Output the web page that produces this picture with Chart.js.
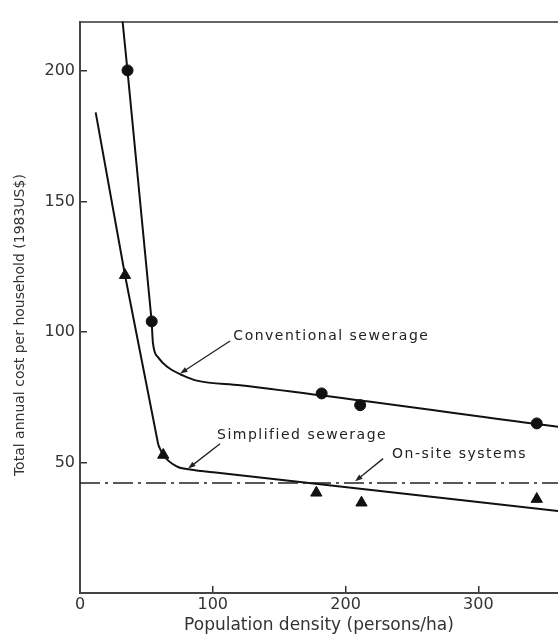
<!DOCTYPE html>
<html>
<head>
<meta charset="utf-8">
<script src="https://cdn.jsdelivr.net/npm/chart.js@4"></script>
<style>
  body { margin: 0; background: #fff; }
  #caixa { width: 558px; height: 636px; }
</style>
</head>
<body>
<div id="caixa"><canvas id="grafico"></canvas></div>
<script>
// esgoto convencional: trecho reto
const convRetaX = [31.5, 35.8, 54];
const convRetaY = [222, 200, 104];
// esgoto convencional: joelho e cauda
const convCurvaX = [54, 54.9, 59, 66.5, 77.8, 87.9, 120.6, 360];
const convCurvaY = [104, 96, 90.2, 86.4, 83.3, 81.4, 79.6, 63.7];
// pontos medidos (circulos)
const convPontosX = [35.8, 54, 182, 211, 344];
const convPontosY = [200.3, 104.1, 76.5, 72, 65];

// esgoto simplificado: trecho reto
const simpRetaX = [11.8, 33.9, 59];
const simpRetaY = [184.2, 121.8, 56.7];
// esgoto simplificado: joelho e cauda
const simpCurvaX = [59, 62.7, 72.8, 82.8, 105.4, 360];
const simpCurvaY = [56.7, 52.9, 48.5, 47.3, 46, 31.4];
// pontos medidos (triangulos)
const simpPontosX = [33.9, 62.7, 178, 212, 344];
const simpPontosY = [121.8, 52.9, 38.4, 34.6, 36];

// sistemas locais (linha traco-ponto)
const localX = [0, 360];
const localY = [42.2, 42.2];

const xTicks = [0, 100, 200, 300];
const yTicks = [50, 100, 150, 200];

// anotacoes: texto e setas, em unidades do grafico
const notaTexto = ['Conventional sewerage', 'Simplified sewerage', 'On-site systems'];
const notaX = [115.5, 103.2, 235];
const notaY = [98.5, 60.6, 53];
const setaDeX = [113, 105.5, 228.3];
const setaDeY = [96.6, 57.2, 51.5];
const setaAteX = [75.4, 81.4, 207.2];
const setaAteY = [84.1, 47.7, 42.8];

const pares = (xs, ys) => xs.map((v, i) => ({x: v, y: ys[i]}));

function seta(ctx, x1, y1, x2, y2) {
  const ang = Math.atan2(y2 - y1, x2 - x1);
  const tam = 8;
  ctx.beginPath();
  ctx.moveTo(x1, y1);
  ctx.lineTo(x2 - Math.cos(ang) * tam * 0.7, y2 - Math.sin(ang) * tam * 0.7);
  ctx.stroke();
  ctx.beginPath();
  ctx.moveTo(x2, y2);
  ctx.lineTo(x2 - tam * Math.cos(ang - 0.35), y2 - tam * Math.sin(ang - 0.35));
  ctx.lineTo(x2 - tam * Math.cos(ang + 0.35), y2 - tam * Math.sin(ang + 0.35));
  ctx.closePath();
  ctx.fill();
}

const notas = {
  id: 'notas',
  afterDatasetsDraw(chart) {
    const {ctx, scales: {x, y}} = chart;
    ctx.save();
    ctx.font = '14px "DejaVu Sans", sans-serif';
    ctx.letterSpacing = '1.5px';
    ctx.fillStyle = '#222';
    ctx.strokeStyle = '#222';
    ctx.lineWidth = 1.3;
    ctx.textBaseline = 'middle';
    for (let i = 0; i < notaTexto.length; i++) {
      ctx.fillText(notaTexto[i], x.getPixelForValue(notaX[i]), y.getPixelForValue(notaY[i]));
      seta(ctx,
        x.getPixelForValue(setaDeX[i]), y.getPixelForValue(setaDeY[i]),
        x.getPixelForValue(setaAteX[i]), y.getPixelForValue(setaAteY[i]));
    }
    ctx.restore();
  }
};

Chart.defaults.font.family = '"DejaVu Sans", sans-serif';
Chart.defaults.color = '#333';

const linha = (xs, ys, suave) => ({
  data: pares(xs, ys),
  showLine: true, pointRadius: 0, borderColor: '#111', borderWidth: 2,
  cubicInterpolationMode: suave ? 'monotone' : 'default', tension: 0
});

const ctx = document.getElementById('grafico').getContext('2d');
const meuGrafico = new Chart(ctx, {
  type: 'scatter',
  data: {
    datasets: [
      linha(convRetaX, convRetaY, false),
      linha(convCurvaX, convCurvaY, true),
      linha(simpRetaX, simpRetaY, false),
      linha(simpCurvaX, simpCurvaY, true),
      {
        data: pares(localX, localY),
        showLine: true, pointRadius: 0, borderColor: '#222', borderWidth: 1.5,
        borderDash: [20, 5, 3, 5]
      },
      {
        data: pares(convPontosX, convPontosY),
        pointStyle: 'circle', pointRadius: 5.5, backgroundColor: '#111', borderColor: '#111',
        clip: false
      },
      {
        data: pares(simpPontosX, simpPontosY),
        pointStyle: 'triangle', pointRadius: 6.5, backgroundColor: '#111', borderColor: '#111',
        clip: false
      }
    ]
  },
  options: {
    responsive: true,
    maintainAspectRatio: false,
    animation: false,
    layout: { autoPadding: false, padding: { top: 15, right: 0, left: 0, bottom: 0 } },
    plugins: { legend: { display: false }, tooltip: { enabled: false } },
    scales: {
      x: {
        type: 'linear', min: 0, max: 360,
        afterFit: (s) => { s.height = 43; },
        afterBuildTicks: (s) => { s.ticks = xTicks.map(v => ({value: v})); },
        ticks: { font: { size: 16 }, padding: 9, color: '#333' },
        grid: { drawOnChartArea: false, tickLength: -7, color: '#333', lineWidth: 1.5 },
        border: { color: '#444', width: 2 },
        title: {
          display: true, text: 'Population density (persons/ha)',
          font: { size: 17 }, color: '#333', padding: { top: 0, bottom: 0 }
        }
      },
      x2: {
        type: 'linear', position: 'top', min: 0, max: 360,
        afterFit: (s) => { s.height = 0; },
        ticks: { display: false },
        grid: { drawOnChartArea: false, drawTicks: false },
        border: { color: '#666', width: 2 }
      },
      y: {
        type: 'linear', min: 0, max: 219,
        afterFit: (s) => { s.width = 80; },
        afterBuildTicks: (s) => { s.ticks = yTicks.map(v => ({value: v})); },
        ticks: { font: { size: 16 }, padding: 12, color: '#333' },
        grid: { drawOnChartArea: false, tickLength: -7, color: '#333', lineWidth: 1.5 },
        border: { color: '#444', width: 2 },
        title: {
          display: true, text: 'Total annual cost per household (1983US$)        ',
          font: { size: 14 }, color: '#333', padding: { top: 12, bottom: 0 }
        }
      }
    }
  },
  plugins: [notas]
});
</script>
</body>
</html>
